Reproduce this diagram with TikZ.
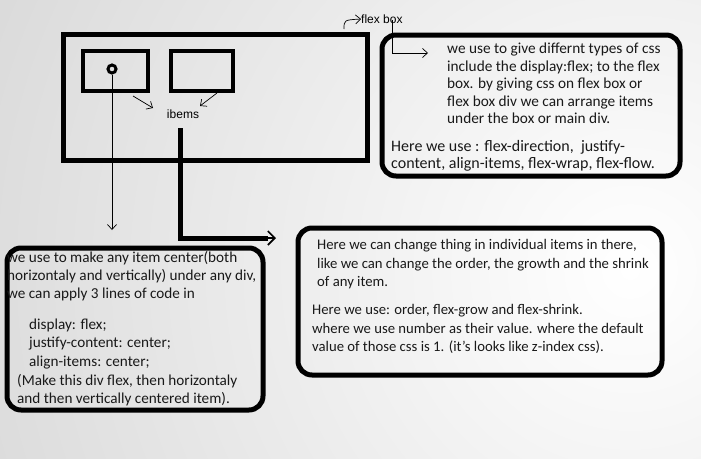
\documentclass[tikz,border=0pt]{standalone}
\usepackage{fontspec}
\setmainfont{Carlito}
\newfontfamily\handfont{Liberation Sans}
\usetikzlibrary{arrows.meta}

\begin{document}
\begin{tikzpicture}[x=1pt, y=-1pt,
    panel/.style={draw, line width=5pt, rounded corners=14pt, anchor=north west, inner sep=0pt},
    itembox/.style={draw, line width=4pt, anchor=north west, inner sep=0pt},
    txt/.style={align=left, anchor=north west, inner sep=0pt, text=black!90,
      font=\fontsize{#1}{18.2}\selectfont},
    txt/.default=15.5,
    hand/.style={inner sep=0pt, font=\handfont\fontsize{12}{12}\selectfont},
    pointer/.style={line width=0.7pt, -{Straight Barb[length=5pt,width=9pt]}},
    heavy/.style={line width=5pt}]
  % background
  \useasboundingbox (0,0) rectangle (701,458);
  \begin{scope}
    \clip (0,0) rectangle (701,458);
    \shade[inner color=white, outer color=black!27] (630,270) circle (1300);
  \end{scope}

  % flex box with its two items
  \node[itembox, line width=5pt, minimum width=304pt, minimum height=126pt] (flexbox) at (60.5,32) {};
  \node[itembox, minimum width=65pt, minimum height=40pt] (itemA) at (81,49) {};
  \node[itembox, minimum width=62pt, minimum height=40pt] (itemB) at (169,49) {};
  \node[draw, circle, line width=3pt, minimum size=8pt, inner sep=0pt] (dot) at (112,69) {};
  \node[hand] (itemslabel) at (183,114) {ibems};
  \node[hand, anchor=west] (flexlabel) at (361,19) {flex box};

  % text panels
  \node[panel, minimum width=298pt, minimum height=141pt] (flexinfo) at (379.5,32.5) {};
  \node[panel, minimum width=256pt, minimum height=162pt] (centerinfo) at (4.5,245.5) {};
  \node[panel, minimum width=364pt, minimum height=147pt] (iteminfo) at (295.5,225.5) {};

  \node[txt, font=\fontsize{15.3}{17.5}\selectfont] (flexinfoA) at (447,43) {we use to give differnt types of css\\include the display:flex; to the flex\\box. by giving css on flex box or\\flex box div we can arrange items\\under the box or main div.};
  \node[txt, font=\fontsize{16}{17.5}\selectfont] (flexinfoB) at (391,140) {Here we use : flex-direction,\ \ justify-\\content, align-items, flex-wrap, flex-flow.};

  \node[txt=15.2] (centerinfoA) at (7,251) {we use to make any item center(both\\horizontaly and vertically) under any div,\\we can apply 3 lines of code in};
  \node[txt=15.2] (centerinfoB) at (29,319) {display: flex;\\justify-content: center;\\align-items: center;};
  \node[txt=15.2] (centerinfoC) at (17,374) {(Make this div flex, then horizontaly\\and then vertically centered item).};

  \node[txt=14.7] (iteminfoA) at (317,239.5) {Here we can change thing in individual items in there,\\like we can change the order, the growth and the shrink\\of any item.};
  \node[txt=14.7] (iteminfoB) at (312,304.5) {Here we use: order, flex-grow and flex-shrink.\\where we use number as their value. where the default\\value of those css is 1. (it's looks like z-index css).};

  % connectors
  \coordinate (centertip) at (113,230);
  \coordinate (itemsleg) at (180,128);
  \coordinate (itemstip) at (276,238);
  \coordinate (flexcorner) at (344,29);
  \coordinate (boxleg) at (392,20);
  \coordinate (boxtip) at (428,53);
  \draw[pointer] (dot.south) -- (dot.south |- centertip);
  \draw[heavy] (itemsleg) |- ([xshift=-8pt]itemstip);
  \draw[line width=1.6pt, -{Straight Barb[length=7pt,width=14pt]}] ([xshift=-12pt]itemstip) -- (itemstip);
  \draw[pointer] (133,96) -- (153,108);
  \draw[pointer] (217,93) -- (200,106);
  \draw[pointer] (flexcorner) .. controls (344,20) .. (flexlabel.west);
  \draw[pointer] (boxleg) |- (boxtip);
\end{tikzpicture}
\end{document}
